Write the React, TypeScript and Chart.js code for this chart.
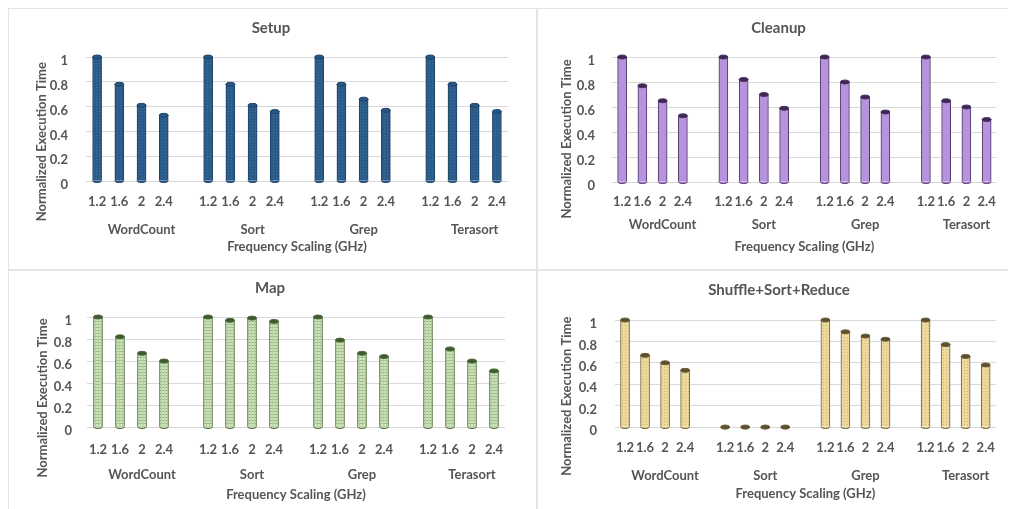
import React, { useEffect, useRef } from 'react';
import { Chart, registerables } from 'chart.js';

Chart.register(...registerables);

// ---------- data ----------
const benchmarks = ['WordCount', 'Sort', 'Grep', 'Terasort'];
const frequencies = ['1.2', '1.6', '2', '2.4'];
const yTickValues = [0, 0.2, 0.4, 0.6, 0.8, 1];

const setupTimes = [1, 0.78, 0.61, 0.53, 1, 0.78, 0.61, 0.56, 1, 0.78, 0.66, 0.57, 1, 0.78, 0.61, 0.56];
const cleanupTimes = [1, 0.77, 0.65, 0.53, 1, 0.82, 0.7, 0.59, 1, 0.8, 0.68, 0.56, 1, 0.65, 0.6, 0.5];
const mapTimes = [1, 0.82, 0.67, 0.6, 1, 0.97, 0.99, 0.96, 1, 0.79, 0.67, 0.64, 1, 0.71, 0.6, 0.51];
const shuffleTimes = [1, 0.67, 0.6, 0.53, 0, 0, 0, 0, 1, 0.89, 0.85, 0.82, 1, 0.77, 0.66, 0.58];

const yAxisTitle = 'Normalized Execution Time';
const xAxisTitle = 'Frequency Scaling (GHz)';

// build slotted category labels (a blank slot between benchmark groups)
function buildSlots(values: number[]) {
  const freqLabels: string[] = [];
  const groupLabels: string[] = [];
  const data: (number | null)[] = [];
  benchmarks.forEach((b, g) => {
    frequencies.forEach((f, i) => {
      freqLabels.push(f);
      groupLabels.push(i === 2 ? b : '');
      data.push(values[g * frequencies.length + i]);
    });
    if (g < benchmarks.length - 1) {
      freqLabels.push('');
      groupLabels.push('');
      data.push(null);
    }
  });
  return { freqLabels, groupLabels, data };
}

const TEXT = '#555555';
const GRID = '#d9d9d9';
const FONT = "Lato, 'Open Sans', 'DejaVu Sans', sans-serif";

function makePattern(kind: string): CanvasPattern | string {
  const c = document.createElement('canvas');
  c.width = 3;
  c.height = 3;
  const g = c.getContext('2d');
  if (!g) return '#888';
  if (kind === 'blue') {
    g.fillStyle = '#2b5b89';
    g.fillRect(0, 0, 3, 3);
    g.fillStyle = '#3f6e9c';
    g.fillRect(1, 1, 1, 1);
  } else if (kind === 'purple') {
    g.fillStyle = '#b793de';
    g.fillRect(0, 0, 3, 3);
  } else if (kind === 'green') {
    g.fillStyle = '#cfe3bd';
    g.fillRect(0, 0, 3, 3);
    g.fillStyle = '#9dbd86';
    g.fillRect(0, 0, 3, 1);
    g.fillStyle = '#b6d09f';
    g.fillRect(0, 0, 1, 3);
  } else {
    g.fillStyle = '#ecd99b';
    g.fillRect(0, 0, 3, 3);
    g.fillStyle = '#cdb671';
    g.fillRect(1, 1, 1, 1);
  }
  return g.createPattern(c, 'repeat') || '#888';
}

interface PanelCfg {
  left: number;
  top: number;
  w: number;
  h: number;
  title: string;
  values: number[];
  kind: string;
  edge: string;
  cap: string;
  pad: { top: number; left: number; right: number; bottom: number };
  titlePad: number;
  yWidth: number;
  yPad: number;
  yTitleShift: number;
  xH: number;
  xPad: number;
  x2Pad: number;
  x2H: number;
  isRight: boolean;
  isBottom: boolean;
}

const panels: PanelCfg[] = [
  {
    left: 8, top: 8, w: 529, h: 262, title: 'Setup', values: setupTimes, kind: 'blue',
    edge: '#1d4265', cap: '#2a5783',
    pad: { top: 11, left: 26, right: 29, bottom: 15 }, titlePad: 20,
    yWidth: 52, yPad: 18, yTitleShift: 7, xH: 30, xPad: 13, x2Pad: 11, x2H: 44,
    isRight: false, isBottom: false,
  },
  {
    left: 537, top: 8, w: 471, h: 262, title: 'Cleanup', values: cleanupTimes, kind: 'purple',
    edge: '#4a3363', cap: '#3c2952',
    pad: { top: 11, left: 22, right: 10, bottom: 15 }, titlePad: 20,
    yWidth: 53, yPad: 17, yTitleShift: 6, xH: 28, xPad: 12, x2Pad: 7, x2H: 45,
    isRight: true, isBottom: false,
  },
  {
    left: 8, top: 270, w: 529, h: 239, title: 'Map', values: mapTimes, kind: 'green',
    edge: '#4d6a3b', cap: '#3e5a2f',
    pad: { top: 9, left: 27, right: 32, bottom: 6 }, titlePad: 20,
    yWidth: 52, yPad: 15, yTitleShift: 8, xH: 30, xPad: 15, x2Pad: 10, x2H: 46,
    isRight: false, isBottom: true,
  },
  {
    left: 537, top: 270, w: 471, h: 239, title: 'Shuffle+Sort+Reduce', values: shuffleTimes, kind: 'yellow',
    edge: '#6e6036', cap: '#5a4f33',
    pad: { top: 11, left: 22, right: 9, bottom: 7 }, titlePad: 21,
    yWidth: 56, yPad: 18, yTitleShift: 7, xH: 30, xPad: 13, x2Pad: 11, x2H: 45,
    isRight: true, isBottom: true,
  },
];

function Panel({ cfg }: { cfg: PanelCfg }) {
  const ref = useRef<HTMLCanvasElement | null>(null);

  useEffect(() => {
    if (!ref.current) return;
    Chart.defaults.font.family = FONT;
    const { freqLabels, groupLabels, data } = buildSlots(cfg.values);

    const cylinder = {
      id: 'cylinder',
      afterDatasetsDraw(chart: any) {
        const ctx = chart.ctx;
        const meta = chart.getDatasetMeta(0);
        const ds = chart.data.datasets[0];
        ctx.save();
        meta.data.forEach((bar: any, i: number) => {
          if (ds.data[i] === null || ds.data[i] === undefined) return;
          const p = bar.getProps(['x', 'y', 'base', 'width'], true);
          const rx = p.width / 2;
          const ry = 2;
          // rounded base of the cylinder
          ctx.beginPath();
          ctx.ellipse(p.x, p.base, rx, ry, 0, 0, Math.PI);
          ctx.fillStyle = ds.backgroundColor;
          ctx.fill();
          ctx.lineWidth = 1;
          ctx.strokeStyle = cfg.edge;
          ctx.stroke();
          // top cap
          ctx.beginPath();
          ctx.ellipse(p.x, p.y, rx, ry, 0, 0, Math.PI * 2);
          ctx.fillStyle = cfg.cap;
          ctx.fill();
          ctx.strokeStyle = cfg.edge;
          ctx.stroke();
        });
        ctx.restore();
      },
    };

    const tickFont = { size: 13, weight: 'bold' as const, family: FONT };
    // trailing spaces move the rotated title slightly lower, as in the original
    const yTitleText = yAxisTitle + '\u2002'.repeat(cfg.yTitleShift);

    const chart = new Chart(ref.current, {
      type: 'bar',
      data: {
        labels: freqLabels,
        datasets: [
          {
            data: data as any,
            backgroundColor: makePattern(cfg.kind) as any,
            borderColor: cfg.edge,
            borderWidth: 1,
            barThickness: 9,
            xAxisID: 'x',
            yAxisID: 'y',
          },
        ],
      },
      options: {
        responsive: false,
        animation: false,
        events: [],
        layout: { padding: cfg.pad },
        plugins: {
          legend: { display: false },
          tooltip: { enabled: false },
          title: {
            display: true,
            text: cfg.title,
            color: TEXT,
            font: { size: 15, weight: 'bold', family: FONT },
            padding: { top: 0, bottom: cfg.titlePad },
          },
        },
        scales: {
          x: {
            type: 'category',
            position: 'bottom',
            offset: true,
            grid: { display: false, drawTicks: false },
            border: { display: false },
            ticks: {
              color: TEXT,
              font: tickFont,
              autoSkip: false,
              maxRotation: 0,
              minRotation: 0,
              padding: cfg.xPad,
            },
            afterFit: (s: any) => {
              s.height = cfg.xH;
            },
          },
          x2: {
            type: 'category',
            position: 'bottom',
            labels: groupLabels,
            offset: true,
            grid: { display: false, drawTicks: false },
            border: { display: false },
            ticks: {
              color: TEXT,
              font: tickFont,
              autoSkip: false,
              maxRotation: 0,
              minRotation: 0,
              padding: cfg.x2Pad,
            },
            title: {
              display: true,
              text: xAxisTitle,
              color: TEXT,
              font: tickFont,
              padding: { top: 0, bottom: 0 },
            },
            afterFit: (s: any) => {
              s.height = cfg.x2H;
            },
          },
          y: {
            min: 0,
            max: 1,
            afterBuildTicks: (s: any) => {
              s.ticks = yTickValues.map((v) => ({ value: v }));
            },
            grid: { color: GRID, lineWidth: 1, drawTicks: false },
            border: { display: false },
            ticks: {
              color: TEXT,
              font: tickFont,
              padding: cfg.yPad,
              labelOffset: 4,
              callback: (v: any) => String(Math.round(Number(v) * 10) / 10),
            },
            title: {
              display: true,
              text: yTitleText,
              color: TEXT,
              font: tickFont,
              padding: { top: 0, bottom: 0 },
            },
            afterFit: (s: any) => {
              s.width = cfg.yWidth;
            },
          },
        },
      },
      plugins: [cylinder],
    });
    return () => chart.destroy();
  }, [cfg]);

  const line = '1px solid #e4e4e4';
  return (
    <div
      style={{
        position: 'absolute',
        left: cfg.left,
        top: cfg.top,
        width: cfg.w,
        height: cfg.h,
        borderTop: line,
        borderLeft: line,
        borderRight: cfg.isRight ? 'none' : line,
        borderBottom: cfg.isBottom ? 'none' : line,
        boxSizing: 'border-box',
      }}
    >
      <canvas
        ref={ref}
        width={cfg.w}
        height={cfg.h}
        style={{ position: 'absolute', left: -1, top: -1, width: cfg.w, height: cfg.h, display: 'block' }}
      />
    </div>
  );
}

export default function App() {
  return (
    <div style={{ position: 'absolute', left: 0, top: 0, width: 1011, height: 509, background: '#fff', overflow: 'hidden' }}>
      {panels.map((p) => (
        <Panel key={p.title} cfg={p} />
      ))}
    </div>
  );
}
